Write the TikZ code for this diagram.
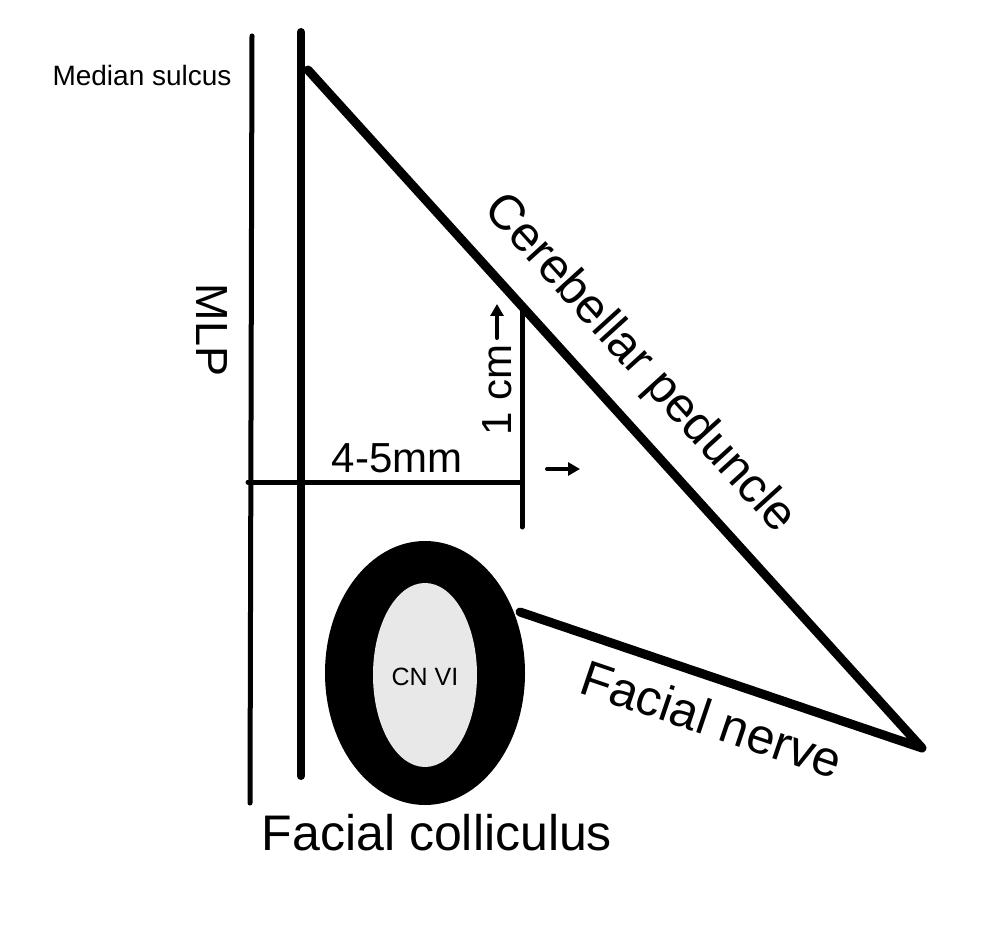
\documentclass[tikz,border=0pt]{standalone}
\usepackage{fontspec}
\setmainfont{Liberation Sans}
\usetikzlibrary{arrows.meta}
\begin{document}
\begin{tikzpicture}[x=1pt,y=-1pt,line cap=round,
  lbl/.style={inner sep=0pt},
  smallarrow/.style={line width=4,-{Triangle[length=12pt,width=13pt]}}]
\useasboundingbox[fill=white] (0,0) rectangle (986,925);
\coordinate (l1a) at (252,36); \coordinate (l1b) at (250,803);
\draw[line width=5] (l1a) -- (l1b);
\coordinate (l2a) at (301,32); \coordinate (l2b) at (301,776);
\draw[line width=8] (l2a) -- (l2b);
\coordinate (t1) at (308,70); \coordinate (t2) at (922,748); \coordinate (t3) at (520,612);
\draw[line width=9,line join=round] (t1) -- (t2) -- (t3);
\coordinate (va) at (522,312); \coordinate (vb) at (522,527);
\draw[line width=5] (va) -- (vb);
\coordinate (ha) at (248,482); \coordinate (hb) at (522,482);
\draw[line width=5] (ha) -- (hb);
\fill[black] (425,673) ellipse [x radius=100, y radius=132];
\fill[black!9] (425,675) ellipse [x radius=52, y radius=92];
\node[lbl,font=\fontsize{25}{27}\selectfont] (cn) at (425,677) {CN VI};
\coordinate (aa) at (547,469); \coordinate (ab) at (580,469);
\draw[smallarrow] (aa) -- (ab);
\coordinate (ua) at (497,338); \coordinate (ub) at (497,304);
\draw[smallarrow] (ua) -- (ub);
\node[lbl,font=\fontsize{28}{30}\selectfont] (ms) at (142,75) {Median sulcus};
\node[lbl,font=\fontsize{45}{48}\selectfont,rotate=-90] (mlp) at (212,330) {MLP};
\node[lbl,font=\fontsize{42}{46}\selectfont] (mm) at (397,458) {4-5mm};
\node[lbl,font=\fontsize{42}{46}\selectfont,rotate=90] (cm) at (497,390) {1 cm};
\node[lbl,font=\fontsize{49}{52}\selectfont,rotate=-47.8] (cp) at (639,364) {Cerebellar peduncle};
\node[lbl,font=\fontsize{50}{54}\selectfont,rotate=-18.7] (fn) at (712,719) {Facial nerve};
\node[lbl,font=\fontsize{50}{54}\selectfont] (fc) at (437,833) {Facial colliculus};
\end{tikzpicture}
\end{document}
